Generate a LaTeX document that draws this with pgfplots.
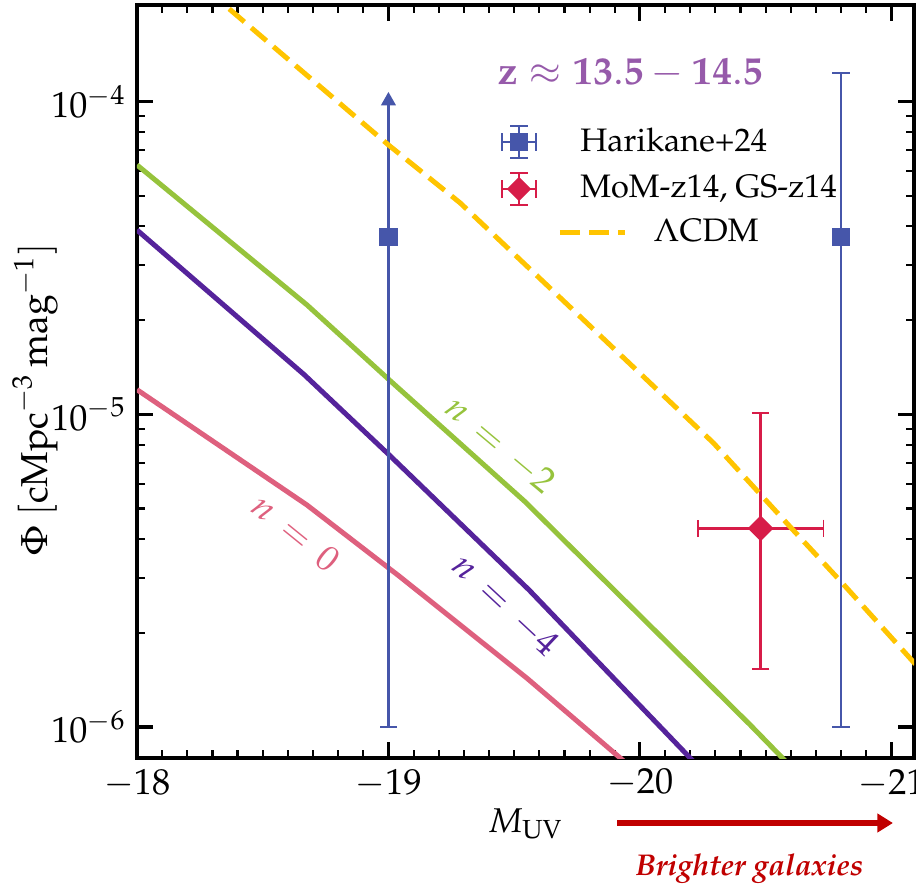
\documentclass[border=0pt]{standalone}
\usepackage[T1]{fontenc}
\usepackage{mathpazo}
\usepackage{pgfplots}
\pgfplotsset{compat=1.18}
\usetikzlibrary{arrows.meta}

\definecolor{hblue}{RGB}{70,86,170}
\definecolor{mred}{RGB}{215,28,72}
\definecolor{lcdm}{RGB}{255,196,0}
\definecolor{ngreen}{RGB}{150,195,60}
\definecolor{npurple}{RGB}{85,35,155}
\definecolor{npink}{RGB}{222,96,126}
\definecolor{ttl}{RGB}{150,90,170}
\definecolor{dred}{RGB}{192,0,0}

\pgfplotstableread{
x y
-18.000 6.28e-5
-18.676 2.24e-5
-19.003 1.29e-5
-19.544 5.25e-6
-20.439 1.015e-6
-20.567 7.96e-7
-20.690 6.28e-7
}\ngtwo
\pgfplotstableread{
x y
-18.000 3.89e-5
-18.665 1.34e-5
-19.003 7.42e-6
-19.560 2.74e-6
-20.200 7.96e-7
-20.300 6.58e-7
}\ngfour
\pgfplotstableread{
x y
-18.000 1.20e-5
-18.676 5.13e-6
-19.047 3.02e-6
-19.552 1.43e-6
-19.922 7.96e-7
-20.020 6.76e-7
}\nzero
\pgfplotstableread{
x y
-18.279 2.28e-4
-18.358 2.01e-4
-18.999 7.29e-5
-19.285 4.75e-5
-20.292 8.11e-6
-20.602 4.33e-6
-20.801 2.91e-6
-21.080 1.64e-6
-21.120 1.51e-6
}\lcdmtab
\pgfplotstableread{
x y ep em
-20.8 3.7e-5 8.7e-5 3.6e-5
}\harione
\pgfplotstableread{
x y em
-19.0 3.7e-5 3.6e-5
}\haritwo
\pgfplotstableread{
x y ex ep em
-20.48 4.32e-6 0.25 5.78e-6 2.79e-6
}\momtab

\begin{document}
\begin{tikzpicture}
\begin{axis}[
  scale only axis, width=248.64pt, height=240.96pt,
  x dir=reverse, xmin=-21.09, xmax=-18,
  ymode=log, ymin=7.96e-7, ymax=2.04e-4,
  xtick={-18,-19,-20,-21}, minor x tick num=9,
  ytick={1e-6,1e-5,1e-4},
  tick align=inside, xtick pos=both, ytick pos=both,
  major tick length=5.1pt, minor tick length=2.6pt,
  every major tick/.append style={black, line width=1pt},
  every minor tick/.append style={black, line width=0.7pt},
  axis line style={line width=1pt},
  tick label style={font=\fontsize{11.6}{13}\selectfont},
  xlabel={$M_{\mathrm{UV}}$},
  xlabel style={font=\fontsize{11}{13}\selectfont, at={(axis description cs:0.5,0)}, anchor=base, yshift=-23.7pt, inner sep=0pt},
  ylabel={$\Phi\ [\mathrm{cMpc}^{-3}\,\mathrm{mag}^{-1}]$},
  ylabel style={font=\fontsize{12}{14}\selectfont, at={(axis description cs:-0.1158,0.476)}, anchor=base, inner sep=0pt},
  legend style={at={(axis description cs:0.4672,0.8420)}, anchor=north west, draw=none, fill=none,
    inner sep=0pt, row sep=4pt, column sep=13.76pt, font=\fontsize{10.4}{12}\selectfont,
    nodes={inner sep=0pt}},
  legend cell align=left,
]

\addplot[ngreen, line width=1.6pt, forget plot] table[x=x,y=y] {\ngtwo};
\addplot[npurple, line width=1.6pt, forget plot] table[x=x,y=y] {\ngfour};
\addplot[npink, line width=1.6pt, forget plot] table[x=x,y=y] {\nzero};

\addplot[hblue, line width=0.8pt, forget plot, -{Triangle[width=4.6pt,length=4.3pt]}]
  coordinates {(-19,3.7e-5) (-19,1.076e-4)};
\addplot[hblue, only marks, mark=square*, mark size=2.7pt, forget plot,
  error bars/.cd, y dir=minus, y explicit,
  error bar style={line width=0.8pt, hblue},
  error mark options={rotate=90, hblue, mark size=2.8pt, line width=0.6pt}]
  table[x=x, y=y, y error minus=em] {\haritwo};
\addplot[hblue, only marks, mark=square*, mark size=2.7pt,
  legend image code/.code={
    \draw[hblue, line width=0.8pt] (-5.44pt,0pt) -- (5.44pt,0pt) (0pt,-5.12pt) -- (0pt,5.12pt);
    \draw[hblue, line width=0.6pt] (-5.44pt,-2.8pt) -- (-5.44pt,2.8pt) (5.44pt,-2.8pt) -- (5.44pt,2.8pt) (-2.8pt,-5.12pt) -- (2.8pt,-5.12pt) (-2.8pt,5.12pt) -- (2.8pt,5.12pt);
    \fill[hblue] (-2.7pt,-2.7pt) rectangle (2.7pt,2.7pt);
  },
  error bars/.cd, y dir=both, y explicit,
  error bar style={line width=0.8pt, hblue},
  error mark options={rotate=90, hblue, mark size=2.8pt, line width=0.6pt}]
  table[x=x, y=y, y error plus=ep, y error minus=em] {\harione};
\addlegendentry{Harikane+24}

\addplot[mred, only marks, mark=square*, mark size=2.7pt, mark options={rotate=45},
  legend image code/.code={
    \draw[mred, line width=0.9pt] (-5.44pt,0pt) -- (5.44pt,0pt) (0pt,-5.12pt) -- (0pt,5.12pt);
    \draw[mred, line width=0.6pt] (-5.44pt,-2.8pt) -- (-5.44pt,2.8pt) (5.44pt,-2.8pt) -- (5.44pt,2.8pt) (-2.8pt,-5.12pt) -- (2.8pt,-5.12pt) (-2.8pt,5.12pt) -- (2.8pt,5.12pt);
    \fill[mred] (0pt,-3.6pt) -- (3.6pt,0pt) -- (0pt,3.6pt) -- (-3.6pt,0pt) -- cycle;
  },
  error bars/.cd, x dir=both, x explicit, y dir=both, y explicit,
  error bar style={line width=0.9pt, mred},
  error mark options={rotate=90, mred, mark size=2.8pt, line width=0.6pt}]
  table[x=x, y=y, x error=ex, y error plus=ep, y error minus=em] {\momtab};
\addlegendentry{MoM-z14, GS-z14}

\addplot[lcdm, line width=1.6pt, dash pattern=on 6.4pt off 2.9pt,
  legend image code/.code={
    \draw[lcdm, line width=1.6pt, dash pattern=on 6.4pt off 2.9pt, overlay] (13.1pt,0pt) -- (33.9pt,0pt);
  }] table[x=x,y=y] {\lcdmtab};
\addlegendentry{\hspace*{23.4pt}$\Lambda$CDM}

\node[ngreen, rotate=-40, font=\fontsize{11.5}{13}\selectfont] at (axis cs:-19.444,7.99e-6) {$n\,=\,-2$};
\node[npurple, rotate=-43, font=\fontsize{11.5}{13}\selectfont] at (axis cs:-19.464,2.457e-6) {$n\,=\,-4$};
\node[npink, rotate=-39, font=\fontsize{11.5}{13}\selectfont] at (axis cs:-18.633,4.18e-6) {$n\,=\,0$};
\node[ttl, font=\fontsize{12.5}{14}\selectfont] at (axis cs:-19.962,1.24e-4) {$\mathbf{z}\approx\mathbf{13.5}-\mathbf{14.5}$};
\end{axis}

\draw[dred, line width=2pt, -{Triangle[width=5.8pt,length=5pt]}]
  ([xshift=153.6pt,yshift=-20.8pt]current axis.south west) -- ([xshift=241.9pt,yshift=-20.8pt]current axis.south west);
\node[dred, anchor=base, font=\fontsize{9.6}{11}\selectfont\bfseries\itshape]
  at ([xshift=196pt,yshift=-37.44pt]current axis.south west) {Brighter galaxies};

\pgfresetboundingbox
\path[use as bounding box] ([xshift=-43.84pt,yshift=-40.64pt]current axis.south west) rectangle ([xshift=0.64pt,yshift=1.6pt]current axis.north east);
\end{tikzpicture}
\end{document}
